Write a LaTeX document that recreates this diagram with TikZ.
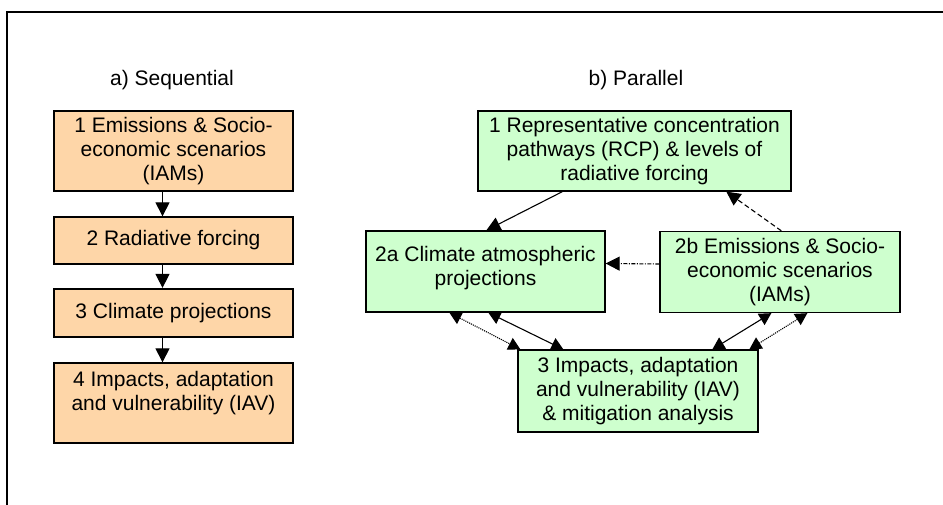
\documentclass[tikz,border=0pt]{standalone}
\usepackage{fontspec}
\setmainfont{Liberation Sans}
\usetikzlibrary{positioning,arrows.meta,calc}
\definecolor{peach}{RGB}{254,214,168}
\definecolor{mint}{RGB}{206,255,206}

\begin{document}
\begin{tikzpicture}[
    x=1pt, y=-1pt,
    font=\fontsize{21}{24}\selectfont,
    seqblock/.style={rectangle, draw, line width=1.3pt, fill=peach, minimum width=239pt, inner sep=0pt, align=center},
    parblock/.style={rectangle, draw, line width=1.3pt, fill=mint, minimum width=240pt, minimum height=81pt, inner sep=0pt, align=center},
    arrow/.style={-{Triangle[length=14pt,width=14pt]}, line width=1.1pt},
    twoway/.style={{Triangle[length=12pt,width=13pt]}-{Triangle[length=12pt,width=13pt]}, line width=1.1pt}
]

\useasboundingbox (0,0) rectangle (943,505);

% Frame
\draw[line width=2pt] (7,505) -- (7,12) -- (943,12);

% a) Sequential chain
\node (seqtitle) at (172,80) {a) Sequential};
\node[seqblock, minimum height=80pt] (seq1) at (173.5,151) {1 Emissions \& Socio-\\economic scenarios\\(IAMs)};
\node[seqblock, minimum height=47pt] (seq2) at (173.5,240.5) {2 Radiative forcing};
\node[seqblock, minimum height=48pt, line width=2.2pt] (seq3) at (173.5,313) {3 Climate projections};
\node[seqblock, minimum height=80pt] (seq4) at (173.5,403) {4 Impacts, adaptation\\and vulnerability (IAV)\\~};

\draw[arrow] ([xshift=-11pt]seq1.south) -- ([xshift=-11pt]seq2.north);
\draw[arrow] ([xshift=-11pt]seq2.south) -- ([xshift=-11pt]seq3.north);
\draw[arrow] ([xshift=-11pt]seq3.south) -- ([xshift=-11pt]seq4.north);

% b) Parallel scheme
\node (partitle) at (636,80) {b) Parallel};
\node[parblock, minimum width=313pt, minimum height=80pt] (rcp) at (634.5,151) {1 Representative concentration\\pathways (RCP) \& levels of\\radiative forcing};
\node[parblock, minimum width=239pt] (climate) at (485.5,271.5) {2a Climate atmospheric\\projections\\[-12pt]\mbox{}};
\node[parblock] (emis) at (780,272) {2b Emissions \& Socio-\\economic scenarios\\(IAMs)};
\node[parblock, minimum height=82pt] (impacts) at (638,391) {3 Impacts, adaptation\\and vulnerability (IAV)\\\& mitigation analysis};

% Links between the parallel blocks
\draw[arrow] ($(rcp.south west)+(85,0)$) -- ($(climate.north west)+(121,0)$);
\draw[arrow, dash pattern=on 5pt off 3pt] ($(emis.north west)+(122,0)$) -- ($(rcp.south west)+(249,0)$);
\draw[arrow, dash pattern=on 4pt off 1.5pt on 1pt off 1.5pt] ($(emis.west)+(0,-8)$) -- ($(climate.east)+(0,-8)$);
\draw[twoway, densely dotted] ($(climate.south west)+(84,0)$) -- ($(impacts.north west)+(3,0)$);
\draw[twoway] ($(climate.south west)+(123,0)$) -- ($(impacts.north west)+(46,0)$);
\draw[twoway] ($(emis.south west)+(112,0)$) -- ($(impacts.north west)+(195,0)$);
\draw[twoway, densely dotted] ($(emis.south west)+(148,0)$) -- ($(impacts.north west)+(232,0)$);

\end{tikzpicture}
\end{document}
